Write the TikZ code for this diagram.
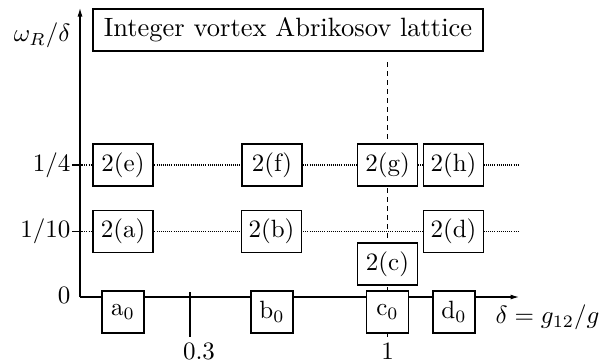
\documentclass[tikz,border=0pt]{standalone}
\usetikzlibrary{arrows.meta}
\begin{document}
\begin{tikzpicture}[x=0.4pt,y=-0.4pt,line width=0.45pt,
  cell/.style={draw, fill=white, inner sep=0pt, minimum width=24pt, minimum height=16.8pt},
  zcell/.style={draw, fill=white, inner sep=0pt, minimum width=16.8pt, minimum height=16.8pt},
  dots/.style={dash pattern=on 0.4pt off 0.45pt},
  dash line/.style={line width=0.7pt, dash pattern=on 2pt off 1.6pt},
  axis/.style={-{Latex[length=3.4pt,width=2pt]}}]
\useasboundingbox (0,0) rectangle (613,362);
% coordinates
\coordinate (O) at (80,297);
\coordinate (ytop) at (80,8);
\coordinate (xend) at (519,297);
\coordinate (q1) at (72,165);
\coordinate (q1e) at (518,165);
\coordinate (q2) at (72,231.5);
\coordinate (q2e) at (518,231.5);
\coordinate (t3a) at (190,292);
\coordinate (t3b) at (190,337);
\coordinate (d1a) at (387.5,62);
\coordinate (d1b) at (387.5,337);
% background lines
\draw[axis] (O) -- (ytop);
\draw[axis] (O) -- (xend);
\draw (q1) -- ++(10,0);
\draw (q2) -- ++(10,0);
\draw[dots] (80,165) -- (q1e);
\draw[dots] (80,231.5) -- (q2e);
\draw (t3a) -- (t3b);
\draw[dash line] (d1a) -- (d1b);
% boxes
\node[draw, fill=white, inner sep=0pt, minimum width=156pt, minimum height=16.8pt, font=\fontsize{10.6}{12}\selectfont] (title) at (288,30) {Integer vortex Abrikosov lattice};
\node[cell] (e) at (123,165) {2(e)};
\node[cell] (f) at (272,165) {2(f)};
\node[cell] (g) at (387.5,165) {2(g)};
\node[cell] (h) at (453.5,165) {2(h)};
\node[cell] (a) at (123,231.5) {2(a)};
\node[cell] (b) at (271.5,231.5) {2(b)};
\node[cell] (d) at (453.5,231.5) {2(d)};
\node[cell] (c) at (387.5,264) {2(c)};
\node[zcell] (a0) at (123,312) {a$_0$};
\node[zcell] (b0) at (272,312) {b$_0$};
\node[zcell] (c0) at (387.5,312) {c$_0$};
\node[zcell] (d0) at (454,312) {d$_0$};
% labels
\node[anchor=east, inner sep=0pt] (ylab) at (71,35) {$\omega_R/\delta$};
\node[anchor=east, inner sep=0pt] (l14) at (71,165) {$1/4$};
\node[anchor=east, inner sep=0pt] (l110) at (71,231.5) {$1/10$};
\node[anchor=east, inner sep=0pt] (l0) at (71,295) {$0$};
\node[anchor=west, inner sep=0pt] (xlab) at (495,317) {$\delta=g_{12}/g$};
\node[inner sep=0pt] (l03) at (199,351) {$0.3$};
\node[inner sep=0pt] (l1) at (387.5,351) {$1$};
\end{tikzpicture}
\end{document}
